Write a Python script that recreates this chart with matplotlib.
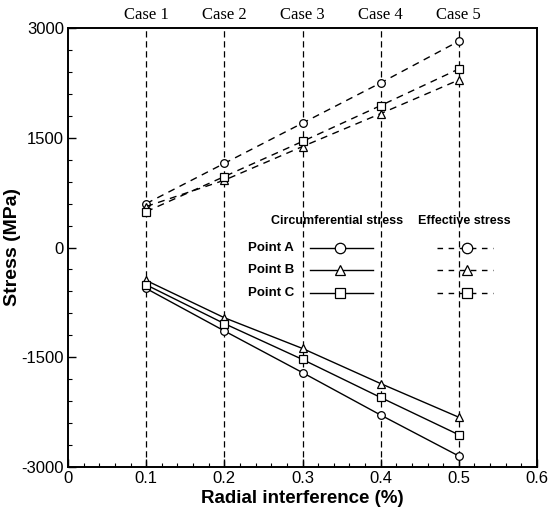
import matplotlib
matplotlib.use("Agg")
import matplotlib.pyplot as plt
from matplotlib.ticker import MultipleLocator

x = [0.1, 0.2, 0.3, 0.4, 0.5]
cases = ["Case 1", "Case 2", "Case 3", "Case 4", "Case 5"]
circ_A = [-560, -1140, -1710, -2290, -2850]
circ_B = [-450, -960, -1380, -1860, -2320]
circ_C = [-510, -1040, -1530, -2050, -2560]
eff_A = [600, 1150, 1700, 2250, 2820]
eff_B = [560, 920, 1380, 1830, 2290]
eff_C = [490, 970, 1450, 1940, 2440]
points = ["Point A", "Point B", "Point C"]
markers = ["o", "^", "s"]

plt.rcParams['font.family'] = ['Liberation Sans', 'DejaVu Sans']
plt.rcParams['axes.unicode_minus'] = False
fig = plt.figure(figsize=(5.6, 5.09), dpi=100)
ax = fig.add_axes([68/560, 1-467/509, 469/560, 439/509])

mk = dict(markerfacecolor='white', markeredgecolor='black', markersize=5.5, markeredgewidth=0.9)
for cy, ey, m in zip([circ_A, circ_B, circ_C], [eff_A, eff_B, eff_C], markers):
    ax.plot(x, cy, '-', color='black', lw=1.0, marker=m, **mk, zorder=3)
    ax.plot(x, ey, '--', color='black', lw=1.0, marker=m, dashes=(5, 4), **mk, zorder=3)

for xv, c in zip(x, cases):
    ax.axvline(xv, color='black', lw=0.9, ls=(0, (5, 3)), zorder=1)
    ax.text(xv, 1.012, c, transform=ax.get_xaxis_transform(), ha='center', va='bottom',
            fontsize=12, family=['Liberation Serif'])

ax.set_xlim(0, 0.6)
ax.set_ylim(-3000, 3000)
ax.xaxis.set_major_locator(MultipleLocator(0.1))
ax.xaxis.set_minor_locator(MultipleLocator(0.02))
ax.yaxis.set_major_locator(MultipleLocator(1500))
ax.yaxis.set_minor_locator(MultipleLocator(300))
ax.set_xticks([0, 0.1, 0.2, 0.3, 0.4, 0.5, 0.6])
ax.set_xticklabels(["0", "0.1", "0.2", "0.3", "0.4", "0.5", "0.6"])
ax.tick_params(axis='both', which='major', direction='in', length=6, width=1.0, labelsize=12, pad=3)
ax.tick_params(axis='both', which='minor', direction='in', length=3, width=0.8)
for s in ax.spines.values():
    s.set_linewidth(1.4)

ax.set_xlabel("Radial interference (%)", fontsize=13.5, fontweight='bold')
ax.xaxis.set_label_coords(0.5, -0.052)
ax.set_ylabel("Stress (MPa)", fontsize=14, fontweight='bold')
ax.yaxis.set_label_coords(-0.100, 0.5)

# custom legend
T = ax.transAxes
ax.text(0.574, 0.560, "Circumferential stress", transform=T, ha='center', va='center',
        fontsize=9, fontweight='bold')
ax.text(0.845, 0.560, "Effective stress", transform=T, ha='center', va='center',
        fontsize=9, fontweight='bold')
rows_y = [0.499, 0.449, 0.396]
for name, m, yy in zip(points, markers, rows_y):
    ax.text(0.384, yy, name, transform=T, ha='left', va='center', fontsize=9.5, fontweight='bold')
    ax.plot([0.516, 0.650], [yy, yy], '-', color='black', lw=1.0, transform=T)
    ax.plot([0.580], [yy], marker=m, transform=T, markerfacecolor='white',
            markeredgecolor='black', markersize=7.5, markeredgewidth=0.9)
    ax.plot([0.787, 0.906], [yy, yy], color='black', lw=1.0, transform=T, dashes=(4, 4))
    ax.plot([0.851], [yy], marker=m, transform=T, markerfacecolor='white',
            markeredgecolor='black', markersize=7.5, markeredgewidth=0.9)

fig.savefig("out.png", dpi=100)
